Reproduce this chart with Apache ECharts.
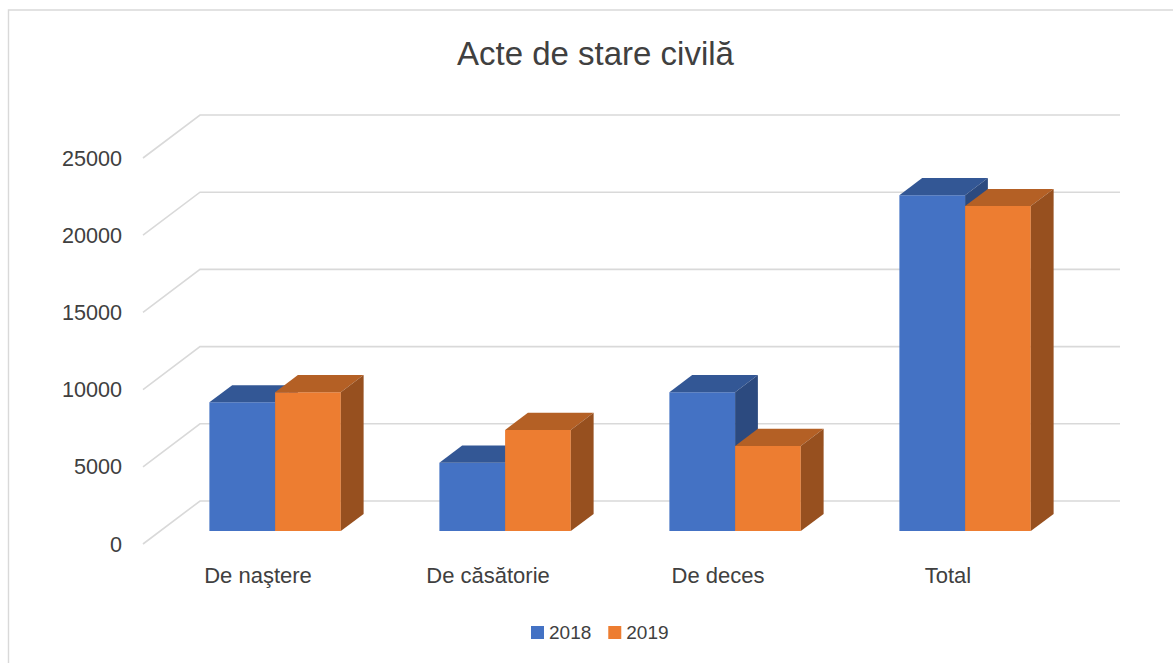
<!DOCTYPE html>
<html>
<head>
<meta charset="utf-8">
<title>Acte de stare civilă</title>
<script src="https://cdn.jsdelivr.net/npm/echarts@6/dist/echarts.min.js"></script>
<style>
  html, body { margin: 0; padding: 0; background: #ffffff; }
  #chart { width: 1173px; height: 663px; }
</style>
</head>
<body>
<div id="chart"></div>
<script>
// Categories and yearly counts
const categories = ['De naştere', 'De căsătorie', 'De deces', 'Total'];
const values2018 = [8340, 4430, 8990, 21760];
const values2019 = [8990, 6550, 5510, 21050];
const yTicks = [0, 5000, 10000, 15000, 20000, 25000];
const seriesNames = ['2018', '2019'];

// Oblique projection of the floor depth (front edge -> back wall)
const DEPTH_X = 57;
const DEPTH_Y = -43;
const BAR_FRONT = 0.3;   // bars start 30% into the depth
const BAR_BACK = 0.7;    // and end at 70%

const FONT = '"Liberation Sans", Arial, sans-serif';
const TEXT_COLOR = '#404040';

const palette = [
  { front: '#4472C4', top: '#335795', side: '#2C4A7F' },
  { front: '#ED7D31', top: '#B46025', side: '#97501F' }
];

function barRenderer(idx) {
  return function (params, api) {
    const cat = api.value(0);
    const val = api.value(1);
    const base = api.coord([cat, 0]);
    const peak = api.coord([cat, val]);
    const cw = api.size([1, 0])[0];
    const bw = cw / 3.5;                      // gap width 150% of bar width
    const fx = DEPTH_X * BAR_FRONT, fy = DEPTH_Y * BAR_FRONT;
    const dx = DEPTH_X * (BAR_BACK - BAR_FRONT), dy = DEPTH_Y * (BAR_BACK - BAR_FRONT);
    const x0 = base[0] - bw + idx * bw + fx;
    const x1 = x0 + bw;
    const yb = base[1] + fy;
    const yt = peak[1] + fy;
    const c = palette[idx];
    return {
      type: 'group',
      children: [
        { type: 'polygon', shape: { points: [[x0, yt], [x1, yt], [x1, yb], [x0, yb]] },
          style: { fill: c.front } },
        { type: 'polygon', shape: { points: [[x0, yt], [x0 + dx, yt + dy], [x1 + dx, yt + dy], [x1, yt]] },
          style: { fill: c.top } },
        { type: 'polygon', shape: { points: [[x1, yt], [x1 + dx, yt + dy], [x1 + dx, yb + dy], [x1, yb]] },
          style: { fill: c.side } }
      ]
    };
  };
}

// Gridlines: diagonal along the left wall, then across the back wall
function gridRenderer(params, api) {
  const cs = params.coordSys;
  const y = api.coord([0, api.value(1)])[1];
  const x = cs.x;
  return {
    type: 'polyline',
    shape: { points: [[x, y], [x + DEPTH_X, y + DEPTH_Y], [x + cs.width + DEPTH_X, y + DEPTH_Y]] },
    style: { stroke: '#D9D9D9', lineWidth: 1.6, fill: null }
  };
}

const chart = echarts.init(document.getElementById('chart'), null, { renderer: 'svg' });

chart.setOption({
  animation: false,
  backgroundColor: '#ffffff',
  title: {
    text: 'Acte de stare civilă',
    left: 457,
    top: 37,
    padding: 0,
    textStyle: { fontFamily: FONT, fontSize: 33, fontWeight: 'normal', color: TEXT_COLOR }
  },
  legend: {
    data: seriesNames,
    left: 531,
    top: 623,
    padding: 0,
    icon: 'rect',
    itemWidth: 13,
    itemHeight: 13,
    itemGap: 17,
    textStyle: { fontFamily: FONT, fontSize: 19, color: TEXT_COLOR }
  },
  graphic: [{
    type: 'rect',
    shape: { x: 8.5, y: 10, width: 1400, height: 900 },
    style: { fill: null, stroke: '#D9D9D9', lineWidth: 1.4 },
    silent: true,
    z: -10
  }],
  grid: { left: 143, right: 110, top: 158, bottom: 119 },
  xAxis: {
    type: 'category',
    data: categories,
    axisLine: { show: false },
    axisTick: { show: false },
    axisLabel: { margin: 20, fontFamily: FONT, fontSize: 22, color: TEXT_COLOR }
  },
  yAxis: {
    type: 'value',
    min: 0,
    max: 25000,
    interval: 5000,
    axisLine: { show: false },
    axisTick: { show: false },
    splitLine: { show: false },
    axisLabel: {
      margin: 21,
      fontFamily: FONT,
      fontSize: 21.6,
      color: TEXT_COLOR,
      formatter: v => String(v)
    }
  },
  series: [
    {
      type: 'custom',
      name: 'grid',
      silent: true,
      clip: false,
      z: 1,
      renderItem: gridRenderer,
      encode: { x: 0, y: 1 },
      data: yTicks.map(v => [0, v])
    },
    {
      type: 'custom',
      name: seriesNames[0],
      clip: false,
      z: 3,
      itemStyle: { color: palette[0].front },
      renderItem: barRenderer(0),
      encode: { x: 0, y: 1 },
      data: values2018.map((v, i) => [i, v])
    },
    {
      type: 'custom',
      name: seriesNames[1],
      clip: false,
      z: 4,
      itemStyle: { color: palette[1].front },
      renderItem: barRenderer(1),
      encode: { x: 0, y: 1 },
      data: values2019.map((v, i) => [i, v])
    }
  ]
});
</script>
</body>
</html>
